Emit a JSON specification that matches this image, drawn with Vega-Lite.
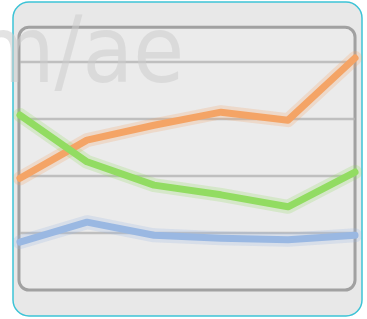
{
  "$schema": "https://vega.github.io/schema/vega-lite/v6.json",
  "width": 349,
  "height": 314,
  "autosize": {"type": "none"},
  "padding": {"left": 13, "top": 2, "right": 5, "bottom": 3},
  "background": "#ffffff",
  "config": {
    "view": {"fill": "#e8e8e8", "stroke": "#3cc3d6", "strokeWidth": 1.5, "cornerRadius": 16}
  },
  "datasets": {
    "series": [
      {"i": 0, "s": "orange", "v": 1.96},
      {"i": 1, "s": "orange", "v": 2.63},
      {"i": 2, "s": "orange", "v": 2.89},
      {"i": 3, "s": "orange", "v": 3.12},
      {"i": 4, "s": "orange", "v": 2.98},
      {"i": 5, "s": "orange", "v": 4.07},
      {"i": 0, "s": "green", "v": 3.07},
      {"i": 1, "s": "green", "v": 2.25},
      {"i": 2, "s": "green", "v": 1.84},
      {"i": 3, "s": "green", "v": 1.67},
      {"i": 4, "s": "green", "v": 1.46},
      {"i": 5, "s": "green", "v": 2.07},
      {"i": 0, "s": "blue", "v": 0.84},
      {"i": 1, "s": "blue", "v": 1.19},
      {"i": 2, "s": "blue", "v": 0.96},
      {"i": 3, "s": "blue", "v": 0.91},
      {"i": 4, "s": "blue", "v": 0.88},
      {"i": 5, "s": "blue", "v": 0.96}
    ],
    "grid": [{"g": 1}, {"g": 2}, {"g": 3}, {"g": 4}],
    "one": [{"label": "m/ae"}]
  },
  "resolve": {"scale": {"x": "shared", "y": "shared"}},
  "layer": [
    {
      "data": {"name": "one"},
      "mark": {"type": "rect", "fill": "#ebebeb", "stroke": "#8e8e8e", "strokeWidth": 3, "strokeOpacity": 0.8, "cornerRadius": 10},
      "encoding": {
        "x": {"datum": -0.015, "type": "quantitative", "scale": {"domain": [-0.104, 5.104], "nice": false, "zero": false}, "axis": null},
        "x2": {"datum": 5.0},
        "y": {"datum": 0, "type": "quantitative", "scale": {"domain": [-0.456, 5.053], "nice": false, "zero": false}, "axis": null},
        "y2": {"datum": 4.61}
      }
    },
    {
      "data": {"name": "grid"},
      "mark": {"type": "rule", "stroke": "#b4b4b4", "strokeWidth": 2.5, "opacity": 0.8},
      "encoding": {
        "x": {"datum": 0, "type": "quantitative"},
        "x2": {"datum": 5},
        "y": {"field": "g", "type": "quantitative"}
      }
    },
    {
      "data": {"name": "one"},
      "mark": {"type": "text", "align": "right", "baseline": "alphabetic", "font": "Liberation Sans Narrow, DejaVu Sans Condensed, sans-serif", "fontSize": 92, "fill": "#cdcdcd", "opacity": 0.55},
      "encoding": {
        "x": {"datum": 2.45, "type": "quantitative"},
        "y": {"datum": 3.65, "type": "quantitative"},
        "text": {"field": "label"}
      }
    },
    {
      "data": {"name": "series"},
      "mark": {"type": "line", "strokeWidth": 14, "opacity": 0.25, "strokeCap": "round", "strokeJoin": "round"},
      "encoding": {
        "x": {"field": "i", "type": "quantitative"},
        "y": {"field": "v", "type": "quantitative"},
        "color": {"field": "s", "type": "nominal", "scale": {"domain": ["orange", "green", "blue"], "range": ["#f4a466", "#92dc62", "#9ab8e2"]}, "legend": null}
      }
    },
    {
      "data": {"name": "series"},
      "mark": {"type": "line", "strokeWidth": 7, "strokeCap": "round", "strokeJoin": "round"},
      "encoding": {
        "x": {"field": "i", "type": "quantitative"},
        "y": {"field": "v", "type": "quantitative"},
        "color": {"field": "s", "type": "nominal", "scale": {"domain": ["orange", "green", "blue"], "range": ["#ef9148", "#7ccf45", "#7ea2d6"]}, "legend": null}
      }
    }
  ]
}
